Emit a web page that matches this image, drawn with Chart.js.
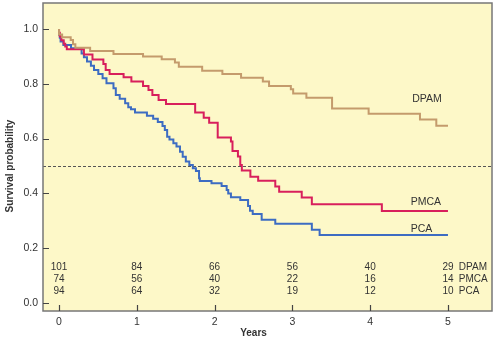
<!DOCTYPE html>
<html lang="en">

<head>
    <meta charset="UTF-8" />
    <title>Survival by histology</title>
    <script src="https://cdn.jsdelivr.net/npm/chart.js"></script>
    <style>
        body {
            margin: 0;
            padding: 0;
            background: #fff;
        }
    </style>
</head>

<body>
    <canvas id="kmChart" width="500" height="343"></canvas>

    <script>
        // Kaplan-Meier steps: time in years, survival after each step
        const dpamTime = [0, 0.04, 0.15, 0.18, 0.21, 0.40, 0.70, 1.08, 1.32, 1.49, 1.54, 1.84, 2.10, 2.34, 2.62, 2.70, 2.98, 3.01, 3.18, 3.51, 3.98, 4.64, 4.85, 4.93, 5.0];
        const dpamSurv = [1.0, 0.98, 0.97, 0.96, 0.944, 0.932, 0.92, 0.909, 0.900, 0.890, 0.878, 0.862, 0.848, 0.836, 0.822, 0.808, 0.792, 0.780, 0.765, 0.749, 0.710, 0.691, 0.670, 0.647, 0.647];

        const pmcaTime = [0, 0.01, 0.03, 0.06, 0.08, 0.10, 0.32, 0.43, 0.57, 0.60, 0.65, 0.83, 0.93, 1.08, 1.15, 1.20, 1.28, 1.375, 1.75, 1.86, 1.93, 2.04, 2.21, 2.23, 2.30, 2.33, 2.35, 2.46, 2.56, 2.78, 2.83, 3.12, 3.25, 4.15, 4.25, 5.0];
        const pmcaSurv = [1.0, 0.986, 0.973, 0.959, 0.946, 0.936, 0.926, 0.907, 0.889, 0.872, 0.850, 0.836, 0.824, 0.808, 0.792, 0.777, 0.759, 0.741, 0.726, 0.695, 0.676, 0.658, 0.604, 0.589, 0.555, 0.535, 0.504, 0.484, 0.461, 0.446, 0.425, 0.406, 0.385, 0.360, 0.336, 0.336];

        const pcaTime = [0, 0.01, 0.02, 0.056, 0.154, 0.29, 0.32, 0.36, 0.41, 0.45, 0.505, 0.56, 0.61, 0.70, 0.73, 0.78, 0.85, 0.89, 0.925, 0.977, 1.13, 1.21, 1.27, 1.33, 1.36, 1.39, 1.42, 1.47, 1.51, 1.555, 1.59, 1.63, 1.675, 1.72, 1.76, 1.80, 1.81, 1.96, 2.09, 2.155, 2.175, 2.21, 2.33, 2.43, 2.455, 2.49, 2.605, 2.78, 3.25, 3.35, 3.57, 5.0];
        const pcaSurv = [1.0, 0.979, 0.968, 0.954, 0.942, 0.930, 0.911, 0.897, 0.881, 0.866, 0.850, 0.836, 0.820, 0.802, 0.784, 0.759, 0.745, 0.729, 0.714, 0.707, 0.695, 0.683, 0.672, 0.661, 0.646, 0.631, 0.607, 0.597, 0.583, 0.571, 0.552, 0.534, 0.516, 0.504, 0.492, 0.482, 0.455, 0.445, 0.437, 0.427, 0.412, 0.400, 0.386, 0.376, 0.354, 0.337, 0.325, 0.304, 0.289, 0.267, 0.248, 0.248];

        // Number at risk at each year
        const years = [0, 1, 2, 3, 4, 5];
        const groups = ["DPAM", "PMCA", "PCA"];
        const atRiskDPAM = [101, 84, 66, 56, 40, 29];
        const atRiskPMCA = [74, 56, 40, 22, 16, 14];
        const atRiskPCA = [94, 64, 32, 19, 12, 10];

        const yTicks = [0, 0.2, 0.4, 0.6, 0.8, 1.0];

        const colors = {
            DPAM: "#c49b6c",
            PMCA: "#d81f5c",
            PCA: "#3d6cc2",
        };

        function toPoints(times, surv) {
            return times.map((t, i) => ({ x: t, y: surv[i] }));
        }

        const FONT = "Liberation Sans, Arial, sans-serif";

        // background, 50% line, frame, inner ticks, tick labels and annotations
        const decor = {
            id: "decor",
            beforeDraw(chart) {
                const { ctx, chartArea: a } = chart;
                ctx.save();
                ctx.fillStyle = "#fdf8c8";
                ctx.fillRect(a.left, a.top, a.right - a.left, a.bottom - a.top);
                ctx.restore();
            },
            beforeDatasetsDraw(chart) {
                const { ctx, chartArea: a } = chart;
                const y = Math.round(chart.scales.y.getPixelForValue(0.5)) + 0.5;
                ctx.save();
                ctx.strokeStyle = "#555";
                ctx.lineWidth = 1;
                ctx.setLineDash([3, 2]);
                ctx.beginPath();
                ctx.moveTo(a.left, y);
                ctx.lineTo(a.right, y);
                ctx.stroke();
                ctx.restore();
            },
            afterDraw(chart) {
                const { ctx, chartArea: a, scales } = chart;
                const xs = scales.x, ys = scales.y;
                ctx.save();

                // frame
                ctx.strokeStyle = "#777";
                ctx.lineWidth = 1.5;
                ctx.strokeRect(a.left, a.top, a.right - a.left, a.bottom - a.top);

                // tick marks pointing inwards
                ctx.strokeStyle = "#444";
                ctx.lineWidth = 1.2;
                ctx.beginPath();
                yTicks.forEach((v) => {
                    const py = Math.round(ys.getPixelForValue(v)) + 0.5;
                    ctx.moveTo(a.left, py);
                    ctx.lineTo(a.left + 6, py);
                });
                years.forEach((v) => {
                    const px = Math.round(xs.getPixelForValue(v)) + 0.5;
                    ctx.moveTo(px, a.bottom);
                    ctx.lineTo(px, a.bottom - 6);
                });
                ctx.stroke();

                // tick labels
                ctx.fillStyle = "#333";
                ctx.font = "10.5px " + FONT;
                ctx.textBaseline = "middle";
                ctx.textAlign = "right";
                yTicks.forEach((v) => {
                    ctx.fillText(v.toFixed(1), a.left - 5, ys.getPixelForValue(v));
                });
                ctx.textAlign = "center";
                years.forEach((v) => {
                    ctx.fillText(String(v), xs.getPixelForValue(v), a.bottom + 11);
                });

                // number at risk table
                ctx.font = "10px " + FONT;
                const rows = [atRiskDPAM, atRiskPMCA, atRiskPCA];
                const rowY = [0.131, 0.088, 0.044];
                rows.forEach((row, r) => {
                    const py = ys.getPixelForValue(rowY[r]);
                    ctx.textAlign = "center";
                    row.forEach((n, i) => {
                        ctx.fillText(String(n), xs.getPixelForValue(years[i]), py);
                    });
                    ctx.textAlign = "left";
                    ctx.fillText(groups[r], xs.getPixelForValue(5.14), py);
                });

                // curve labels
                ctx.font = "10.5px " + FONT;
                ctx.textAlign = "left";
                ctx.fillText("DPAM", xs.getPixelForValue(4.54), ys.getPixelForValue(0.745));
                ctx.fillText("PMCA", xs.getPixelForValue(4.52), ys.getPixelForValue(0.370));
                ctx.fillText("PCA", xs.getPixelForValue(4.52), ys.getPixelForValue(0.270));

                // axis titles
                ctx.font = "bold 10px " + FONT;
                ctx.textAlign = "center";
                ctx.fillText("Years", xs.getPixelForValue(2.5), 333);
                ctx.translate(10, ys.getPixelForValue(0.5));
                ctx.rotate(-Math.PI / 2);
                ctx.fillText("Survival probability", 0, 0);

                ctx.restore();
            },
        };

        function makeSet(name, times, surv) {
            return {
                label: name,
                data: toPoints(times, surv),
                stepped: "after",
                borderColor: colors[name],
                borderWidth: 2,
                pointRadius: 0,
                fill: false,
            };
        }

        const ctx = document.getElementById("kmChart").getContext("2d");
        const kmChart = new Chart(ctx, {
            type: "line",
            data: {
                datasets: [
                    makeSet("DPAM", dpamTime, dpamSurv),
                    makeSet("PMCA", pmcaTime, pmcaSurv),
                    makeSet("PCA", pcaTime, pcaSurv),
                ],
            },
            options: {
                responsive: false,
                animation: false,
                layout: { padding: { top: 3, right: 8, left: 0, bottom: 0 } },
                plugins: {
                    legend: { display: false },
                    tooltip: { enabled: false },
                },
                scales: {
                    x: {
                        type: "linear",
                        min: -0.206,
                        max: 5.566,
                        grid: { display: false },
                        border: { display: false },
                        ticks: { display: false },
                        afterFit: (s) => { s.height = 32; },
                    },
                    y: {
                        type: "linear",
                        min: -0.0292,
                        max: 1.0949,
                        grid: { display: false },
                        border: { display: false },
                        ticks: { display: false },
                        afterFit: (s) => { s.width = 43; },
                    },
                },
            },
            plugins: [decor],
        });
    </script>
</body>

</html>
